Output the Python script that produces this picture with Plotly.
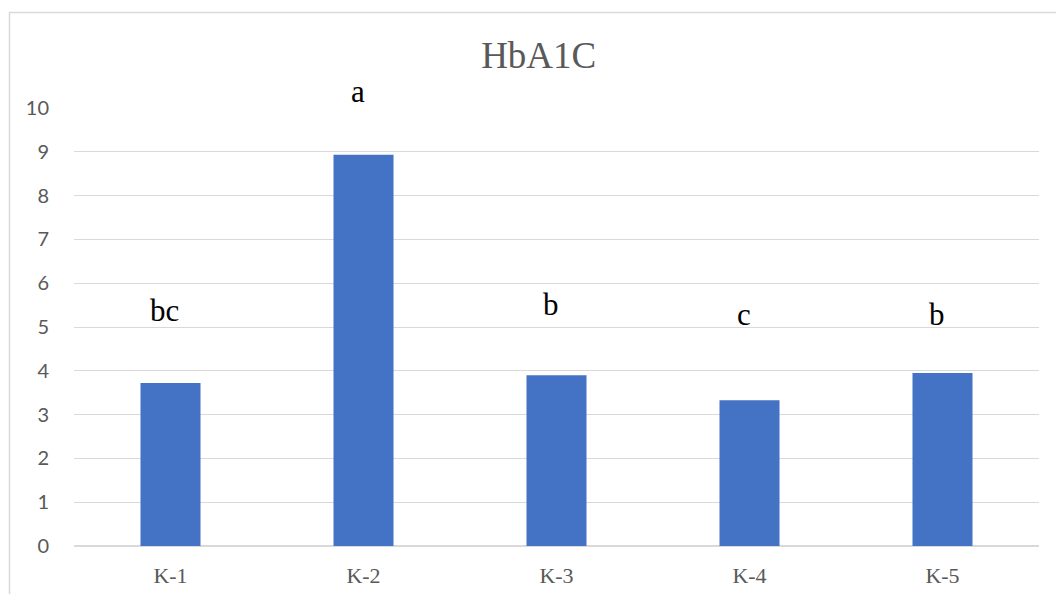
import plotly.graph_objects as go

categories = ["K-1", "K-2", "K-3", "K-4", "K-5"]
hba1c = [3.72, 8.93, 3.90, 3.33, 3.95]
letters = ["bc", "a", "b", "c", "b"]
letter_heights = [5.11, 10.12, 5.25, 5.03, 5.03]
y_ticks = [0, 1, 2, 3, 4, 5, 6, 7, 8, 9, 10]
y_max = 10

W, H = 1056, 594
L, R, T, B = 74, 17, 108, 48
pw, ph = W - L - R, H - T - B

fig = go.Figure()
fig.add_trace(go.Bar(x=categories, y=hba1c, marker=dict(color="#4472C4", line=dict(width=0)),
                     showlegend=False, hoverinfo="skip"))

for c, lab, yh in zip(categories, letters, letter_heights):
    fig.add_annotation(x=c, y=yh / y_max, text=lab, showarrow=False, xref="x", yref="paper",
                       yanchor="bottom", yshift=-8, xshift=-6,
                       font=dict(family="Liberation Serif", size=31, color="#000000"))

def px_x(p):
    return (p - L) / pw

def px_y(p):
    return (H - B - p) / ph

fig.add_shape(type="rect", xref="paper", yref="paper",
              x0=px_x(9.5), x1=px_x(1070), y0=px_y(12.5), y1=px_y(610),
              line=dict(color="#D9D9D9", width=1.5), fillcolor="rgba(0,0,0,0)", layer="below")

fig.update_layout(
    template="none",
    width=W, height=H,
    margin=dict(l=L, r=R, t=T, b=B, autoexpand=False),
    paper_bgcolor="white", plot_bgcolor="white",
    bargap=0.689,
    title=dict(text="HbA1C", x=538.7 / W, xanchor="center", xref="container",
               y=1 - 55 / H, yanchor="middle", yref="container",
               font=dict(family="Liberation Serif", size=37, color="#595959")),
    xaxis=dict(automargin=False, showgrid=False, showline=False, zeroline=False,
               ticks="outside", ticklen=10, tickcolor="rgba(0,0,0,0)",
               tickfont=dict(family="Liberation Serif", size=22, color="#595959")),
    yaxis=dict(automargin=False, range=[0, y_max], tickvals=y_ticks, showgrid=True,
               gridcolor="#D9D9D9", gridwidth=1,
               zeroline=True, zerolinecolor="#D9D9D9", zerolinewidth=1.5, showline=False,
               ticks="outside", ticklen=20, tickcolor="rgba(0,0,0,0)",
               tickfont=dict(family="Lato", size=20, color="#595959")),
)

fig.write_html("out.html", config={"displayModeBar": False},
               post_script="document.body.style.margin='0';document.body.style.overflow='hidden';")
